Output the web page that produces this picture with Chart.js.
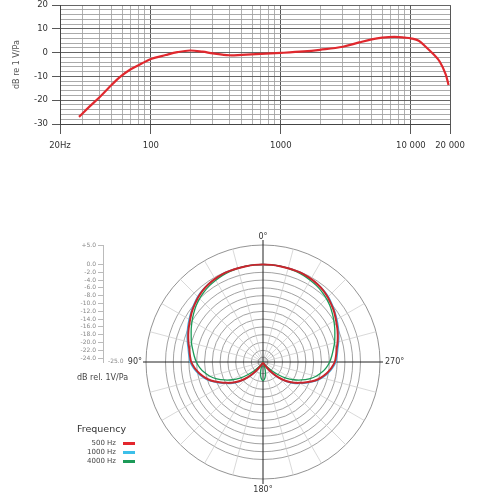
<!DOCTYPE html>
<html><head><meta charset="utf-8">
<script src="https://cdn.jsdelivr.net/npm/chart.js@4/dist/chart.umd.min.js"></script>
<style>
html,body{margin:0;padding:0;background:#fff;overflow:hidden;width:500px;height:500px;position:relative;}
canvas{position:absolute;}
.t{position:absolute;font-family:"DejaVu Sans",sans-serif;white-space:nowrap;line-height:1;}
</style></head><body>
<canvas id="fr" width="500" height="164" style="left:0;top:-4px;width:500px;height:164px"></canvas>
<canvas id="sc" width="140" height="150" style="left:0;top:230px;width:140px;height:150px"></canvas>
<canvas id="po" width="314" height="295" style="left:106px;top:205px;width:314px;height:295px"></canvas>
<div class="t" id="minLbl" style="left:108px;top:358px;font-size:6px;color:#888"></div>
<div class="t" id="unitLbl" style="left:77px;top:374px;font-size:8px;color:#444"></div>
<div id="legend"></div>
<script>
// ---------- Frequency response data ----------
const freqHz  = [28, 34, 41, 50, 58, 70, 85, 100, 130, 160, 200, 250, 300, 400, 500, 700, 1000, 1500, 2000, 3000, 4000, 5000, 6000, 7500, 9000, 10000, 11500, 13000, 15000, 16700, 18500, 19500];
const levelDb = [-27, -22.5, -18.3, -13.5, -10.2, -7, -4.6, -2.7, -1, 0.2, 0.9, 0.4, -0.3, -1.1, -0.9, -0.5, -0.1, 0.5, 1.2, 2.5, 4.3, 5.6, 6.3, 6.6, 6.3, 6.0, 5.0, 2.5, -0.8, -3.8, -9, -13.6];
const xGridValues = [20,30,40,50,60,70,80,90,100,200,300,400,500,600,700,800,900,1000,2000,3000,4000,5000,6000,7000,8000,9000,10000,20000];
const xLabelValues = [20, 100, 1000, 10000, 20000];
const xLabelTexts  = ['20Hz', '100', '1000', '10 000', '20 000'];
const yLabelValues = [20, 10, 0, -10, -20, -30];
const yTitle = 'dB re 1 V/Pa';

// ---------- Polar pattern data ----------
const angles = [0,5,10,15,20,25,30,35,40,45,50,55,60,65,70,75,80,85,90,95,100,105,110,115,120,125,130,135,140,145,150,155,160,165,170,175,
                180,185,190,195,200,205,210,215,220,225,230,235,240,245,250,255,260,265,270,275,280,285,290,295,300,305,310,315,320,325,330,335,340,345,350,355];
const db500 = [0,0,-0.05,-0.1,-0.15,-0.2,-0.4,-0.65,-1.0,-1.5,-2.1,-2.7,-3.4,-4.0,-4.6,-5.2,-5.8,-6.2,-6.6,-7.4,-8.4,-9.6,-11.0,-12.7,-14.3,-15.8,-17.5,-19.4,-21.4,-23.2,-24.1,-24.5,-24.6,-24.7,-24.7,-24.7,
               -24.7,-24.7,-24.7,-24.7,-24.6,-24.5,-24.1,-23.2,-21.4,-19.4,-17.5,-15.8,-14.3,-12.7,-11.0,-9.6,-8.4,-7.4,-6.6,-6.2,-5.8,-5.2,-4.6,-4.0,-3.4,-2.7,-2.1,-1.5,-1.0,-0.65,-0.4,-0.2,-0.15,-0.1,-0.05,0];
const db1000 = [0,0,-0.05,-0.1,-0.15,-0.2,-0.4,-0.6,-0.9,-1.3,-1.9,-2.5,-3.1,-3.7,-4.3,-4.9,-5.5,-5.9,-6.3,-7.1,-8.1,-9.3,-10.7,-12.4,-14.0,-15.5,-17.2,-19.1,-21.1,-23.0,-24.0,-24.4,-24.6,-24.7,-24.7,-24.7,
                -24.7,-24.7,-24.7,-24.7,-24.6,-24.4,-24.0,-23.0,-21.1,-19.1,-17.2,-15.5,-14.0,-12.4,-10.7,-9.3,-8.1,-7.1,-6.3,-5.9,-5.5,-4.9,-4.3,-3.7,-3.1,-2.5,-1.9,-1.3,-0.9,-0.6,-0.4,-0.2,-0.15,-0.1,-0.05,0];
const db4000 = [0,0,-0.05,-0.15,-0.3,-0.5,-0.8,-1.1,-1.5,-2.0,-2.6,-3.3,-4.0,-4.7,-5.4,-6.0,-6.7,-7.3,-7.9,-8.7,-9.7,-10.9,-12.4,-14.1,-15.9,-17.8,-19.9,-21.8,-23.3,-24.2,-24.8,-25,-24.2,-22.8,-21.5,-20.6,
                -20.2,-20.6,-21.5,-22.8,-24.2,-25,-24.8,-24.2,-23.3,-21.8,-19.9,-17.8,-15.9,-14.1,-12.4,-10.9,-9.7,-8.7,-7.9,-7.3,-6.7,-6.0,-5.4,-4.7,-4.0,-3.3,-2.6,-2.0,-1.5,-1.1,-0.8,-0.5,-0.3,-0.15,-0.05,0];
const seriesNames  = ['500 Hz', '1000 Hz', '4000 Hz'];
const seriesColors = ['#c9252c', '#3cb4e6', '#1c9a58'];
const legendSwatch = ['#e3262d', '#3cbfe9', '#1c9a58'];
const ringValues = [-24,-22,-20,-18,-16,-14,-12,-10,-8,-6,-4,-2,0,5];
const scaleTickValues = [5,0,-2,-4,-6,-8,-10,-12,-14,-16,-18,-20,-22,-24];
const scaleMin = -25, scaleMax = 5;
const axisAngles = [0, 90, 180, 270];
const axisTexts  = ['0°', '90°', '180°', '270°'];
const legendTitle = 'Frequency';
const unitText = 'dB rel. 1V/Pa';

const FONT = '"DejaVu Sans", sans-serif';

// ---------- Top chart: frequency response ----------
new Chart(document.getElementById('fr'), {
  type: 'line',
  data: { datasets: [{
    data: freqHz.map((f, i) => ({x: f, y: levelDb[i]})),
    borderColor: '#e0282e', borderWidth: 2.2, pointRadius: 0, fill: false,
    tension: 0.35
  }]},
  options: {
    responsive: false, animation: false,
    layout: { padding: { left: 0, right: 50, top: 2, bottom: 0 } },
    plugins: { legend: { display: false }, tooltip: { enabled: false } },
    scales: {
      x: {
        type: 'logarithmic', min: 20, max: 20000,
        afterBuildTicks: s => { s.ticks = xGridValues.map(v => ({value: v})); },
        afterFit: s => { s.height = 36; },
        ticks: {
          autoSkip: false, maxRotation: 0, padding: 7, color: '#333',
          font: { family: FONT, size: 8.5 },
          callback: v => { const k = xLabelValues.indexOf(v); return k >= 0 ? xLabelTexts[k] : ''; }
        },
        grid: {
          color: c => ([20,100,1000,10000,20000].includes(c.tick && c.tick.value) ? '#444' : '#a8a8a8'),
          lineWidth: 0.9, tickLength: 10,
          tickColor: c => (xLabelValues.includes(c.tick && c.tick.value) ? '#444' : 'rgba(0,0,0,0)')
        },
        border: { color: '#444', width: 1 }
      },
      y: {
        min: -30, max: 20,
        afterBuildTicks: s => { const t = []; for (let v = 20; v >= -30; v -= 2) t.push({value: v}); s.ticks = t.reverse(); },
        afterFit: s => { s.width = 60; },
        ticks: {
          autoSkip: false, padding: 4, color: '#333',
          font: { family: FONT, size: 8.5 },
          callback: v => (yLabelValues.includes(v) ? String(v) : '')
        },
        grid: {
          color: c => (c.tick && c.tick.value % 10 === 0 ? '#555' : '#a0a0a0'),
          lineWidth: 0.9, tickLength: 8,
          tickColor: c => (c.tick && yLabelValues.includes(c.tick.value) ? '#444' : 'rgba(0,0,0,0)')
        },
        border: { color: '#444', width: 1 },
        title: { display: true, text: yTitle, color: '#555', font: { family: FONT, size: 8 }, padding: { top: 12, bottom: 0 } }
      }
    }
  }
});

// ---------- Left dB scale for polar plot ----------
new Chart(document.getElementById('sc'), {
  type: 'scatter',
  data: { datasets: [] },
  options: {
    responsive: false, animation: false,
    layout: { padding: { left: 0, right: 10, top: 15, bottom: 18 } },
    plugins: { legend: { display: false }, tooltip: { enabled: false } },
    scales: {
      x: { display: false, min: 0, max: 1 },
      y: {
        min: scaleMin, max: scaleMax,
        afterBuildTicks: s => { s.ticks = scaleTickValues.slice().reverse().map(v => ({value: v})); },
        afterFit: s => { s.width = 103; },
        ticks: { autoSkip: false, padding: 2, color: '#888', font: { family: FONT, size: 6 },
                 callback: v => (v > 0 ? '+' : '') + v.toFixed(1) },
        grid: { drawOnChartArea: false, tickLength: 5, tickColor: '#bbb' },
        border: { color: '#bbb', width: 1 }
      }
    }
  }
});
document.getElementById('minLbl').textContent = scaleMin.toFixed(1);
document.getElementById('unitLbl').textContent = unitText;

// ---------- Polar pattern (radar) ----------
const n = angles.length;
// radar goes clockwise from top; reference angles go counter-clockwise
const order = angles.map((a, i) => (n - i) % n);
const labelsCW = order.map(j => angles[j] + '°');
const pick = arr => order.map(j => arr[j]);
const axisIdx = axisAngles.map(a => (n - angles.indexOf(a)) % n);

const polarDecor = {
  id: 'polarDecor',
  beforeDatasetsDraw(chart) {
    const s = chart.scales.r, ctx = chart.ctx;
    const R = s.getDistanceFromCenterForValue(s.max);
    ctx.save();
    const r0 = s.getDistanceFromCenterForValue(-24);
    ctx.beginPath(); ctx.arc(s.xCenter, s.yCenter, r0 + 1, 0, 2 * Math.PI);
    ctx.fillStyle = '#dcdcdc'; ctx.fill();
    ctx.strokeStyle = '#888'; ctx.lineWidth = 0.8; ctx.stroke();
    ctx.strokeStyle = '#222'; ctx.lineWidth = 1;
    const ext = [5, 3, 5, 3];
    axisIdx.forEach((idx, k) => {
      const p = s.getPointPosition(idx, R + ext[k]);
      ctx.beginPath(); ctx.moveTo(s.xCenter, s.yCenter); ctx.lineTo(p.x, p.y); ctx.stroke();
    });
    ctx.restore();
  },
  afterDraw(chart) {
    const s = chart.scales.r, ctx = chart.ctx;
    const R = s.getDistanceFromCenterForValue(s.max);
    ctx.save();
    ctx.fillStyle = '#333';
    ctx.font = '8px ' + FONT;
    ctx.textBaseline = 'middle';
    const cfg = [[8, 'center'], [4, 'right'], [11, 'center'], [5, 'left']];
    axisIdx.forEach((idx, k) => {
      const p = s.getPointPosition(idx, R + cfg[k][0]);
      ctx.textAlign = cfg[k][1];
      ctx.fillText(axisTexts[k], p.x, p.y);
    });
    ctx.restore();
  }
};

const polarSeries = [db500, db1000, db4000];
const widths = [2, 1.3, 1.3];
const orders = [1, 3, 2];
new Chart(document.getElementById('po'), {
  type: 'radar',
  data: {
    labels: labelsCW,
    datasets: polarSeries.map((arr, k) => ({
      label: seriesNames[k], data: pick(arr),
      borderColor: seriesColors[k], borderWidth: widths[k], backgroundColor: 'rgba(0,0,0,0)',
      fill: false, pointRadius: 0, order: orders[k]
    }))
  },
  options: {
    responsive: false, animation: false,
    layout: { padding: { left: 40, right: 40, top: 40, bottom: 21 } },
    plugins: { legend: { display: false }, tooltip: { enabled: false } },
    elements: { line: { tension: 0.3 }, point: { radius: 0 } },
    scales: {
      r: {
        min: scaleMin, max: scaleMax,
        afterBuildTicks: s => { s.ticks = ringValues.map(v => ({value: v})); },
        ticks: { display: false },
        pointLabels: { display: false },
        grid: { circular: true, color: c => (c.tick && c.tick.value === 5 ? '#777' : '#8a8a8a'), lineWidth: 0.8 },
        angleLines: { color: c => (c.index % 3 === 0 && c.index % 18 !== 0 ? '#cfcfcf' : 'rgba(0,0,0,0)'), lineWidth: 0.8 }
      }
    }
  },
  plugins: [polarDecor]
});

// ---------- Legend ----------
const lg = document.getElementById('legend');
const title = document.createElement('div');
title.className = 't'; title.textContent = legendTitle;
title.style.cssText = 'left:77px;top:424px;font-size:9.5px;color:#333';
lg.appendChild(title);
const rowTop = [439.5, 448.5, 457.5];
seriesNames.forEach((name, k) => {
  const d = document.createElement('div');
  d.className = 't'; d.textContent = name;
  d.style.cssText = 'right:' + (500 - 116) + 'px;top:' + rowTop[k] + 'px;font-size:7px;color:#444';
  lg.appendChild(d);
  const sw = document.createElement('div');
  sw.style.cssText = 'position:absolute;left:123px;top:' + (rowTop[k] + 2.5) + 'px;width:12px;height:3px;background:' + legendSwatch[k];
  lg.appendChild(sw);
});
</script>
</body></html>
